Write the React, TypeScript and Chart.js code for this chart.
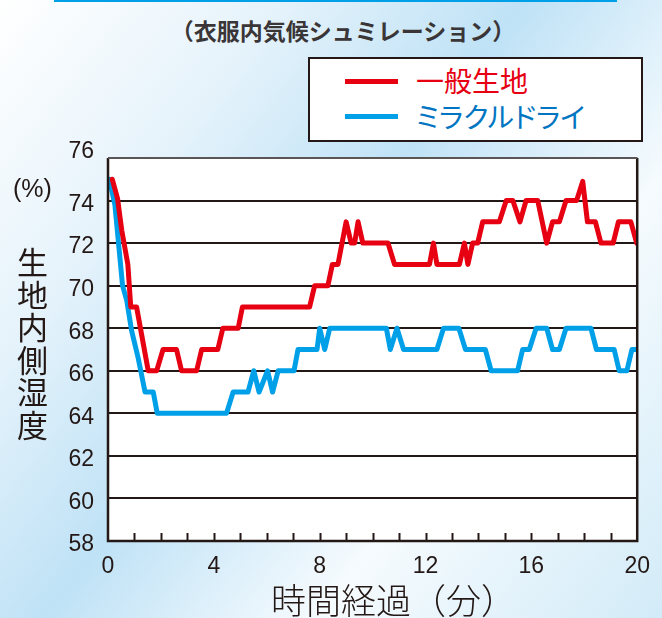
import React, { useEffect, useRef } from 'react';
import { Chart, registerables } from 'chart.js';

Chart.register(...registerables);

const TITLE = '（衣服内気候シュミレーション）';
const SERIES_NAMES = ['一般生地', 'ミラクルドライ'];
const X_TITLE = '時間経過（分）';
const Y_UNIT = '(%)';
const Y_TITLE = '生地内側湿度';
const X_TICKS = [0, 4, 8, 12, 16, 20];
const Y_TICKS = [58, 60, 62, 64, 66, 68, 70, 72, 74, 76];

// 一般生地 (red)
const redTime = [
  0.16, 0.36, 0.52, 0.75, 0.86, 1.08, 1.52, 1.84, 2.08, 2.59, 2.78, 3.35, 3.54, 4.15, 4.34, 4.92,
  5.08, 7.62, 7.81, 8.31, 8.48, 8.69, 9.0, 9.19, 9.32, 9.45, 9.63, 10.58, 10.83, 12.15, 12.3,
  12.43, 13.28, 13.47, 13.6, 13.78, 13.97, 14.16, 14.79, 15.05, 15.3, 15.57, 15.8, 16.24, 16.58,
  16.8, 17.06, 17.31, 17.71, 17.94, 18.12, 18.42, 18.63, 19.09, 19.29, 19.76, 19.98,
];
const redValue = [
  75.0, 74.1, 72.6, 71.0, 69.0, 69.0, 66.0, 66.0, 67.0, 67.0, 66.0, 66.0, 67.0, 67.0, 68.0, 68.0,
  69.0, 69.0, 70.0, 70.0, 71.0, 71.0, 73.0, 72.0, 72.0, 73.0, 72.0, 72.0, 71.0, 71.0, 72.0,
  71.0, 71.0, 72.0, 71.0, 72.0, 72.0, 73.0, 73.0, 74.0, 74.0, 73.0, 74.0, 74.0, 72.0,
  73.0, 73.0, 74.0, 74.0, 74.9, 73.0, 73.0, 72.0, 72.0, 73.0, 73.0, 72.0,
];

// ミラクルドライ (blue)
const blueTime = [
  0.05, 0.26, 0.39, 0.55, 0.71, 0.89, 1.14, 1.4, 1.71, 1.86, 4.48, 4.73, 5.29, 5.51, 5.71, 6.03,
  6.22, 6.43, 7.03, 7.18, 7.9, 8.0, 8.19, 8.38, 10.52, 10.67, 10.92, 11.17, 12.43, 12.68, 13.26,
  13.51, 14.26, 14.48, 15.48, 15.67, 15.92, 16.18, 16.58, 16.8, 17.06, 17.31, 18.25, 18.46,
  19.13, 19.32, 19.61, 19.8, 19.95,
];
const blueValue = [
  75.0, 73.8, 72.1, 70.0, 69.3, 67.9, 66.6, 65.0, 65.0, 64.0, 64.0, 65.0, 65.0, 66.0, 65.0, 66.0,
  65.0, 66.0, 66.0, 67.0, 67.0, 68.0, 67.0, 68.0, 68.0, 67.0, 68.0, 67.0, 67.0, 68.0, 68.0,
  67.0, 67.0, 66.0, 66.0, 67.0, 67.0, 68.0, 68.0, 67.0, 67.0, 68.0, 68.0, 67.0,
  67.0, 66.0, 66.0, 67.0, 67.0,
];

const RED = '#e60012';
const BLUE = '#00a0e9';
const INK = '#231815';
const NUM_FONT = '"Liberation Sans", Arial, sans-serif';
const JP_FONT = '"Noto Sans CJK JP", sans-serif';
const NUM_SIZE = 23;

const framePlugin = {
  id: 'frame',
  beforeDraw(chart: any) {
    const { ctx, chartArea: a } = chart;
    ctx.save();
    ctx.fillStyle = '#ffffff';
    ctx.fillRect(a.left, a.top, a.right - a.left, a.bottom - a.top);
    ctx.restore();
  },
  afterDraw(chart: any) {
    const { ctx, chartArea: a } = chart;
    const xs = chart.scales.x;
    const ys = chart.scales.y;
    ctx.save();
    ctx.strokeStyle = INK;
    ctx.lineWidth = 2;
    // inner minute ticks
    for (let m = 1; m < 20; m++) {
      const px = Math.round(xs.getPixelForValue(m)) + 0.5;
      ctx.beginPath();
      ctx.moveTo(px, a.bottom);
      ctx.lineTo(px, a.bottom - 8);
      ctx.stroke();
    }
    // frame
    ctx.lineWidth = 2.5;
    ctx.beginPath();
    ctx.moveTo(a.left, a.top);
    ctx.lineTo(a.left, a.bottom);
    ctx.lineTo(a.right, a.bottom);
    ctx.lineTo(a.right, a.top);
    ctx.stroke();
    ctx.strokeStyle = '#5a5656';
    ctx.lineWidth = 2;
    ctx.beginPath();
    ctx.moveTo(a.left, a.top);
    ctx.lineTo(a.right, a.top);
    ctx.stroke();
    // top tick label (sits above its grid line in the original)
    const top = Y_TICKS[Y_TICKS.length - 1];
    ctx.fillStyle = INK;
    ctx.font = `${NUM_SIZE}px ${NUM_FONT}`;
    ctx.textAlign = 'right';
    ctx.textBaseline = 'middle';
    ctx.fillText(String(top), a.left - 14, ys.getPixelForValue(top) - 6);
    ctx.restore();
  },
};

export default function App() {
  const ref = useRef<HTMLCanvasElement | null>(null);

  useEffect(() => {
    if (!ref.current) return;
    const chart = new Chart(ref.current, {
      type: 'line',
      data: {
        datasets: [
          {
            label: SERIES_NAMES[0],
            data: redTime.map((t, i) => ({ x: t, y: redValue[i] })),
            borderColor: RED,
            backgroundColor: RED,
            borderWidth: 5,
            pointRadius: 0,
            tension: 0,
            borderJoinStyle: 'round',
            borderCapStyle: 'round',
          },
          {
            label: SERIES_NAMES[1],
            data: blueTime.map((t, i) => ({ x: t, y: blueValue[i] })),
            borderColor: BLUE,
            backgroundColor: BLUE,
            borderWidth: 5,
            pointRadius: 0,
            tension: 0,
            borderJoinStyle: 'round',
            borderCapStyle: 'round',
          },
        ],
      },
      options: {
        animation: false,
        responsive: false,
        layout: { padding: { top: 158, right: 23, bottom: 0, left: 0 } },
        plugins: { legend: { display: false }, tooltip: { enabled: false } },
        scales: {
          x: {
            type: 'linear',
            min: 0,
            max: 20,
            afterBuildTicks: (s: any) => {
              s.ticks = X_TICKS.map((v) => ({ value: v }));
            },
            afterFit: (s: any) => {
              s.height = 77;
            },
            ticks: {
              padding: 12,
              maxRotation: 0,
              autoSkip: false,
              color: INK,
              font: { family: NUM_FONT, size: NUM_SIZE },
            },
            grid: { display: false, drawTicks: false },
            border: { display: false },
          },
          y: {
            min: Y_TICKS[0],
            max: Y_TICKS[Y_TICKS.length - 1],
            afterBuildTicks: (s: any) => {
              s.ticks = Y_TICKS.map((v) => ({ value: v }));
            },
            afterFit: (s: any) => {
              s.width = 108;
            },
            ticks: {
              padding: 14,
              labelOffset: 4,
              color: INK,
              font: { family: NUM_FONT, size: NUM_SIZE },
              callback: (v: any) => (v === Y_TICKS[Y_TICKS.length - 1] ? '' : String(v)),
            },
            grid: { color: INK, lineWidth: 2, drawTicks: false },
            border: { display: false },
          },
        },
      },
      plugins: [framePlugin],
    } as any);
    return () => chart.destroy();
  }, []);

  return (
    <div
      style={{
        position: 'absolute',
        left: 0,
        top: 0,
        width: 662,
        height: 618,
        overflow: 'hidden',
        background:
          'linear-gradient(128deg, #ffffff 0%, #e6f3fb 24%, #bfe2f6 46%, #f6fbfe 70%, #d2ebf8 100%)',
        fontFamily: JP_FONT,
      }}
    >
      <div style={{ position: 'absolute', left: 54, top: 0, width: 563, height: 2, background: BLUE }} />
      <div
        style={{
          position: 'absolute',
          left: 93,
          top: 17,
          width: 500,
          textAlign: 'center',
          fontSize: 23,
          lineHeight: '26px',
          fontWeight: 700,
          color: '#3a3536',
          whiteSpace: 'nowrap',
        }}
      >
        {TITLE}
      </div>
      <canvas ref={ref} width={662} height={618} style={{ position: 'absolute', left: 0, top: 0 }} />
      <div
        style={{
          position: 'absolute',
          left: 308,
          top: 57,
          width: 331,
          height: 81,
          background: '#ffffff',
          border: `2px solid ${INK}`,
        }}
      >
        <div style={{ position: 'absolute', left: 35, top: 20, width: 53, height: 5, background: RED }} />
        <div style={{ position: 'absolute', left: 35, top: 55, width: 53, height: 5, background: BLUE }} />
        <div
          style={{
            position: 'absolute',
            left: 106,
            top: 5,
            fontSize: 28,
            lineHeight: '32px',
            color: RED,
            whiteSpace: 'nowrap',
          }}
        >
          {SERIES_NAMES[0]}
        </div>
        <div
          style={{
            position: 'absolute',
            left: 106,
            top: 41,
            fontSize: 28,
            lineHeight: '32px',
            color: '#0075c2',
            whiteSpace: 'nowrap',
            fontFeatureSettings: '"palt"',
          }}
        >
          {SERIES_NAMES[1]}
        </div>
      </div>
      <div
        style={{
          position: 'absolute',
          left: 13,
          top: 173,
          fontFamily: NUM_FONT,
          fontSize: 25,
          lineHeight: '30px',
          color: INK,
        }}
      >
        {Y_UNIT}
      </div>
      <div
        style={{
          position: 'absolute',
          left: 15,
          top: 247,
          fontSize: 31,
          lineHeight: '34px',
          writingMode: 'vertical-rl',
          letterSpacing: 1.5,
          color: INK,
        }}
      >
        {Y_TITLE}
      </div>
      <div
        style={{
          position: 'absolute',
          left: 271,
          top: 581,
          fontSize: 35,
          lineHeight: '35px',
          fontWeight: 300,
          color: INK,
          whiteSpace: 'nowrap',
        }}
      >
        {X_TITLE}
      </div>
    </div>
  );
}
